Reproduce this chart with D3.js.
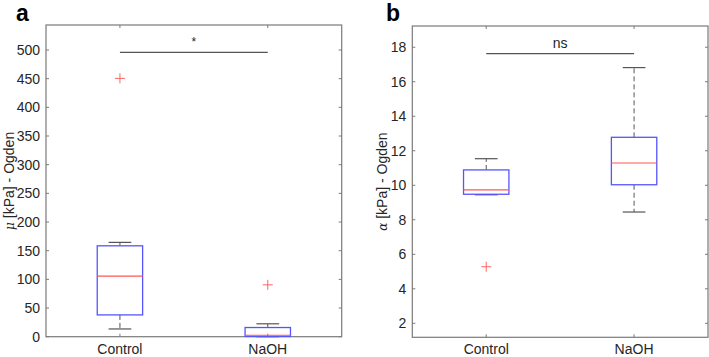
<!DOCTYPE html>
<html>
<head>
<meta charset="utf-8">
<script src="https://cdn.jsdelivr.net/npm/d3@7"></script>
<style>
  body { margin: 0; background: #fff; }
  svg { font-family: "Liberation Sans", Arial, sans-serif; }
</style>
</head>
<body>
<svg id="chart" width="709" height="357"></svg>
<script>
const categories = ["Control", "NaOH"];

// box stats: [lowWhisker, q1, median, q3, highWhisker]
const muStats = [
  [13.5, 38, 105.5, 158.5, 164.5],
  [0, 0.5, 2.5, 16, 22.5],
];
const muOutliers = [[450.5], [90.5]];
const muTicks = [0, 50, 100, 150, 200, 250, 300, 350, 400, 450, 500];

const alphaStats = [
  [9.45, 9.48, 9.73, 10.89, 11.54],
  [8.45, 10.03, 11.29, 12.78, 16.82],
];
const alphaOutliers = [[5.28], []];
const alphaTicks = [2, 4, 6, 8, 10, 12, 14, 16, 18];

const svg = d3.select("#chart");

function panel({ left, top, right, bottom, domain, ticks, stats, outliers, sig, sigLabel, letter, letterX, yLabel, labelX }) {
  const x = d3.scaleLinear().domain([0.5, 2.5]).range([left, right]);
  const y = d3.scaleLinear().domain(domain).range([bottom, top]);
  const g = svg.append("g");
  const axisColor = "#7a7a7a";
  const textColor = "#262626";
  const fs = 14;
  const bw = (x(1.5) - x(0.5)) * 0.307 / 2;

  // frame
  g.append("rect")
    .attr("x", left).attr("y", top)
    .attr("width", right - left).attr("height", bottom - top)
    .attr("fill", "none").attr("stroke", axisColor).attr("stroke-width", 1.2);

  // y ticks both sides
  ticks.forEach(t => {
    g.append("line").attr("x1", left).attr("x2", left + 3)
      .attr("y1", y(t)).attr("y2", y(t)).attr("stroke", axisColor);
    g.append("line").attr("x1", right).attr("x2", right - 3)
      .attr("y1", y(t)).attr("y2", y(t)).attr("stroke", axisColor);
    g.append("text").attr("x", left - 6).attr("y", y(t))
      .attr("text-anchor", "end").attr("dominant-baseline", "central")
      .attr("font-size", fs).attr("fill", textColor).text(t);
  });

  // x ticks top and bottom
  categories.forEach((c, i) => {
    const cx = x(i + 1);
    g.append("line").attr("x1", cx).attr("x2", cx)
      .attr("y1", bottom).attr("y2", bottom - 3).attr("stroke", axisColor);
    g.append("line").attr("x1", cx).attr("x2", cx)
      .attr("y1", top).attr("y2", top + 3).attr("stroke", axisColor);
    g.append("text").attr("x", cx).attr("y", bottom + 17)
      .attr("text-anchor", "middle").attr("font-size", fs)
      .attr("fill", textColor).text(c);
  });

  // boxes
  stats.forEach((s, i) => {
    const cx = x(i + 1);
    const [lo, q1, med, q3, hi] = s;
    const cap = bw / 2;
    // whiskers dashed
    g.append("line").attr("x1", cx).attr("x2", cx)
      .attr("y1", y(q3)).attr("y2", y(hi))
      .attr("stroke", "#555").attr("stroke-dasharray", "5,3");
    g.append("line").attr("x1", cx).attr("x2", cx)
      .attr("y1", y(q1)).attr("y2", y(lo))
      .attr("stroke", "#555").attr("stroke-dasharray", "5,3");
    g.append("line").attr("x1", cx - cap).attr("x2", cx + cap)
      .attr("y1", y(hi)).attr("y2", y(hi)).attr("stroke", "#555").attr("stroke-width", 1.2);
    g.append("line").attr("x1", cx - cap).attr("x2", cx + cap)
      .attr("y1", y(lo)).attr("y2", y(lo)).attr("stroke", "#555").attr("stroke-width", 1.2);
    g.append("rect")
      .attr("x", cx - bw).attr("y", y(q3))
      .attr("width", 2 * bw).attr("height", y(q1) - y(q3))
      .attr("fill", "none").attr("stroke", "#5555ff").attr("stroke-width", 1.3);
    g.append("line").attr("x1", cx - bw).attr("x2", cx + bw)
      .attr("y1", y(med)).attr("y2", y(med))
      .attr("stroke", "#ff5555").attr("stroke-width", 1.2);
    outliers[i].forEach(o => {
      g.append("path")
        .attr("d", `M${cx - 5},${y(o)}H${cx + 5}M${cx},${y(o) - 5}V${y(o) + 5}`)
        .attr("stroke", "#ff6666").attr("stroke-width", 1);
    });
  });

  // significance bar
  g.append("line").attr("x1", x(1)).attr("x2", x(2))
    .attr("y1", y(sig)).attr("y2", y(sig))
    .attr("stroke", "#555").attr("stroke-width", 1.2);
  g.append("text").attr("x", (x(1) + x(2)) / 2).attr("y", y(sig) - 6)
    .attr("text-anchor", "middle").attr("font-size", sigLabel === "*" ? 12 : fs)
    .attr("fill", textColor).text(sigLabel);

  // panel letter
  g.append("text").attr("x", letterX).attr("y", 21)
    .attr("font-size", 23).attr("font-weight", "bold").attr("fill", "#000").text(letter);

  // y label
  const lbl = g.append("text")
    .attr("transform", `translate(${labelX},${(top + bottom) / 2}) rotate(-90)`)
    .attr("text-anchor", "middle").attr("font-size", fs).attr("fill", textColor);
  lbl.append("tspan").attr("font-family", "'DejaVu Serif', serif").attr("font-style", "italic").attr("font-size", 12).text(yLabel[0]);
  lbl.append("tspan").text(" " + yLabel[1]);
}

panel({
  left: 46, top: 25, right: 341.7, bottom: 336.7,
  domain: [0, 543.6], ticks: muTicks, stats: muStats, outliers: muOutliers,
  sig: 496, sigLabel: "*", letter: "a", letterX: 16,
  yLabel: ["μ", "[kPa] - Ogden"], labelX: 14,
});

panel({
  left: 412.3, top: 26, right: 708, bottom: 337.3,
  domain: [1.19, 19.23], ticks: alphaTicks, stats: alphaStats, outliers: alphaOutliers,
  sig: 17.63, sigLabel: "ns", letter: "b", letterX: 386,
  yLabel: ["α", "[kPa] - Ogden"], labelX: 387,
});
</script>
</body>
</html>
